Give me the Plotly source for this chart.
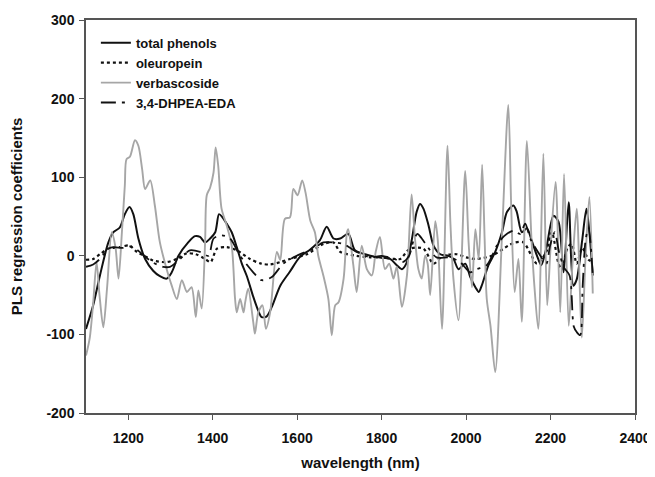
import plotly.graph_objects as go

# total phenols
tp_wl = [1100,1117,1133,1153,1165,1180,1192,1203,1212,1224,1240,1259,1275,1291,1303,1319,1342,1358,1370,1382,1394,1406,1415,1423,1433,1445,1457,1469,1481,1496,1508,1516,1528,1540,1560,1583,1607,1631,1654,1670,1686,1702,1721,1737,1761,1792,1820,1836,1848,1860,1872,1883,1891,1899,1911,1923,1939,1958,1970,1982,1998,2010,2022,2030,2037,2053,2069,2085,2097,2112,2120,2132,2144,2155,2168,2178,2190,2207,2219,2231,2243,2254,2262,2275,2285,2292,2300]
tp_val = [-93,-63,-25,17,30,36,53,62,53,22,-4,-19,-26,-29,-21,0,17,25,24,17,22,30,53,49,41,30,11,-10,-26,-52,-70,-78,-77,-65,-38,-20,-1,8,20,37,22,22,28,7,2,-2,-4,-12,-17,-8,22,56,66,60,39,13,2,0,-4,-17,-10,-27,-40,-46,-38,-12,5,30,56,64,56,30,35,20,0,-12,10,51,43,-21,68,-38,-30,20,60,30,-25]

# oleuropein
ol_wl = [1100,1117,1133,1153,1180,1203,1220,1238,1259,1291,1315,1338,1360,1382,1395,1410,1433,1457,1488,1515,1536,1560,1583,1623,1662,1686,1702,1741,1773,1800,1830,1844,1867,1899,1923,1945,1978,2000,2022,2061,2100,2116,2136,2155,2168,2190,2203,2219,2227,2240,2250,2262,2275,2290,2300]
ol_val = [-5,-4,2,9,11,13,5,0,-6,-8,-4,3,2,-4,-8,9,11,7,-4,-10,-11,-8,-4,2,15,17,5,0,-2,-2,-4,-4,9,9,-10,0,2,-2,-4,0,13,17,17,0,-10,5,30,-10,-17,10,15,-10,10,-5,-8]

# verbascoside
vb_wl = [1100,1109,1117,1125,1132,1141,1150,1161,1170,1177,1185,1192,1196,1204,1216,1224,1233,1240,1252,1263,1275,1291,1303,1315,1327,1339,1350,1360,1366,1374,1382,1386,1394,1402,1407,1413,1421,1433,1445,1453,1457,1465,1473,1477,1484,1496,1500,1508,1518,1526,1536,1552,1560,1571,1583,1591,1601,1612,1620,1631,1642,1650,1662,1674,1682,1690,1698,1710,1718,1721,1733,1741,1753,1765,1777,1786,1796,1808,1818,1828,1836,1848,1860,1871,1879,1887,1895,1903,1909,1915,1927,1933,1943,1956,1963,1970,1982,1998,2006,2014,2022,2030,2038,2044,2049,2058,2069,2085,2100,2107,2115,2124,2132,2144,2155,2162,2171,2183,2192,2200,2212,2223,2232,2243,2252,2262,2274,2283,2292,2300]
vb_val = [-127,-104,-60,-8,-50,-91,-40,30,10,-29,30,90,123,126,147,140,110,85,96,64,17,-17,-38,-55,-31,-46,-40,-78,-44,-67,17,77,87,106,138,115,60,39,13,-55,-72,-55,-72,-59,-42,-84,-99,-72,-63,-93,-72,5,-5,47,49,85,77,96,80,45,30,0,-25,-55,-101,-63,-59,-29,30,34,-12,-46,13,-17,-25,5,24,-17,-10,-29,-14,-65,-25,78,22,-17,-29,0,-10,-50,44,20,-93,140,40,-29,-82,108,17,-40,34,-4,116,20,-55,-90,-148,25,192,60,-46,-4,-84,146,20,-40,-93,130,-63,10,94,-72,104,-89,-10,60,-104,0,75,-48]

# 3,4-DHPEA-EDA
dh_wl = [1100,1117,1133,1153,1165,1188,1203,1220,1238,1257,1283,1299,1323,1346,1370,1390,1402,1421,1441,1465,1496,1516,1540,1567,1599,1638,1662,1686,1710,1741,1773,1800,1830,1850,1865,1876,1885,1895,1907,1930,1960,1986,2010,2025,2049,2073,2090,2112,2128,2140,2152,2176,2190,2199,2210,2220,2232,2245,2255,2262,2270,2276,2283,2290,2300]
dh_val = [-14,-11,-4,9,11,10,12,8,0,-8,-14,-14,-4,7,5,0,22,26,22,0,-21,-31,-27,-10,0,9,17,17,15,5,-2,0,-4,-8,0,20,28,22,13,-2,-2,-8,-21,-17,-12,13,25,32,28,41,22,0,-10,13,30,5,-15,-25,-90,-97,-101,-40,20,35,-25]

x_ticks = [1200, 1400, 1600, 1800, 2000, 2200, 2400]
y_ticks = [-200, -100, 0, 100, 200, 300]
y_ticktext = ["-200", "-100", "0", "100", "200", "300"]

FONT = "Liberation Sans, Arial, sans-serif"

fig = go.Figure()
fig.add_trace(go.Scatter(x=tp_wl, y=tp_val, mode="lines", name="total phenols",
                         line=dict(color="#111111", width=2, shape="spline", smoothing=0.8)))
fig.add_trace(go.Scatter(x=ol_wl, y=ol_val, mode="lines", name="oleuropein",
                         line=dict(color="#111111", width=2.2, dash="dot", shape="spline", smoothing=0.8)))
fig.add_trace(go.Scatter(x=vb_wl, y=vb_val, mode="lines", name="verbascoside",
                         line=dict(color="#a6a6a6", width=1.9, shape="spline", smoothing=0.8)))
fig.add_trace(go.Scatter(x=dh_wl, y=dh_val, mode="lines", name="3,4-DHPEA-EDA",
                         line=dict(color="#111111", width=1.8, dash="longdashdot", shape="spline", smoothing=0.8)))

axis_common = dict(showline=True, linecolor="#555555", linewidth=1.5, mirror=True,
                   ticks="outside", ticklen=5, tickcolor="#555555", tickwidth=1.2,
                   showgrid=False, zeroline=False, automargin=False,
                   tickfont=dict(family=FONT, size=14, color="#111111", weight="bold"))

# the page body has an 8px margin, so the figure is shrunk to fit the 655x477 window
fig.update_layout(
    width=647, height=469, autosize=False,
    margin=dict(l=78, r=20, t=12, b=64),
    paper_bgcolor="white", plot_bgcolor="white",
    font=dict(family=FONT, color="#111111"),
    xaxis=dict(range=[1100, 2400], tickvals=x_ticks, ticklabelstandoff=6,
               title=dict(text="wavelength (nm)", font=dict(family=FONT, size=15, weight="bold"), standoff=13),
               **axis_common),
    yaxis=dict(range=[-200, 300], tickvals=y_ticks, ticktext=y_ticktext, ticklabelstandoff=2,
               title=dict(text="PLS regression coefficients", font=dict(family=FONT, size=15, weight="bold"), standoff=20),
               **axis_common),
    legend=dict(x=0.018, y=0.98, xanchor="left", yanchor="top",
                bgcolor="rgba(0,0,0,0)", itemwidth=30,
                font=dict(family=FONT, size=13, weight="bold")),
    showlegend=True,
)

fig.write_html("out.html")
